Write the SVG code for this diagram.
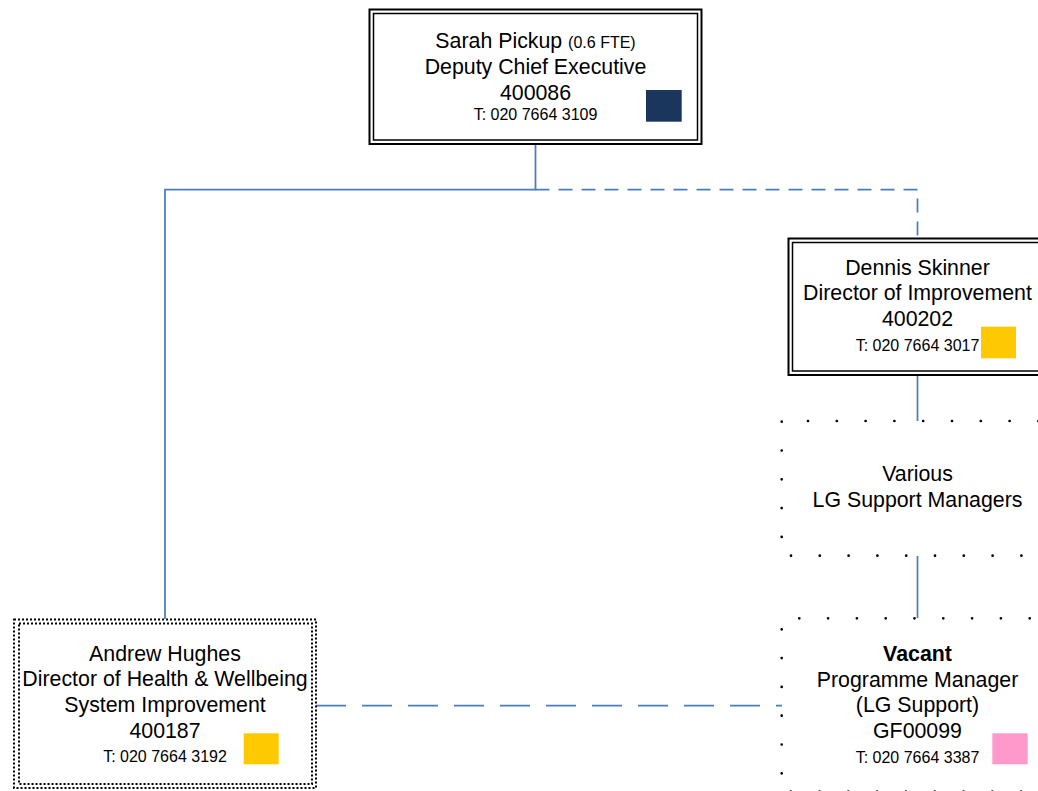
<svg xmlns="http://www.w3.org/2000/svg" width="1038" height="791" viewBox="0 0 1038 791">
<style>
text{font-family:"Liberation Sans",Arial,sans-serif;fill:#000;text-anchor:middle}
.m{font-size:21.33px}
.s{font-size:16px}
.b{font-weight:bold}
.dbl1{fill:none;stroke:#000;stroke-width:2}
.dbl2{fill:none;stroke:#000;stroke-width:1.5}
.dots{fill:none;stroke:#000;stroke-width:2.7;stroke-linecap:round;stroke-dasharray:0 28.8}
.dash{fill:none;stroke:#000;stroke-width:2;stroke-dasharray:2 2}
.c{fill:none;stroke:#4A7EBB;stroke-width:1.75}
.cd{fill:none;stroke:#4A7EBB;stroke-width:1.75;stroke-dasharray:14 9}
.cl{fill:none;stroke:#4A7EBB;stroke-width:1.75;stroke-dasharray:30 16}
</style>
<rect width="1038" height="791" fill="#fff"/>
<g id="connectors">
<path class="c" d="M535.5 144 V189.5 H165 V619"/>
<path class="cd" d="M535.5 189.5 H917.5 V238"/>
<path class="c" d="M917.5 375 V421"/>
<path class="c" d="M917.5 556 V618"/>
<path class="cl" d="M316 705.5 H782"/>
</g>
<g id="sarah">
<rect class="dbl1" x="369.5" y="9.5" width="332" height="134.5"/>
<rect class="dbl2" x="373.5" y="13.5" width="324" height="126.5"/>
<text x="535.5" y="48.3"><tspan class="m">Sarah Pickup </tspan><tspan class="s">(0.6 FTE)</tspan></text>
<text class="m" x="535.5" y="74">Deputy Chief Executive</text>
<text class="m" x="535.5" y="100">400086</text>
<text class="s" x="535.5" y="120">T: 020 7664 3109</text>
<rect x="646" y="90" width="35.7" height="31.7" fill="#1B365D"/>
</g>
<g id="dennis">
<rect class="dbl1" x="788.5" y="238.5" width="258" height="136.5"/>
<rect class="dbl2" x="792.5" y="242.5" width="250" height="128.5"/>
<text class="m" x="917.5" y="275">Dennis Skinner</text>
<text class="m" x="917.5" y="300">Director of Improvement</text>
<text class="m" x="917.5" y="325.5">400202</text>
<text class="s" x="917.5" y="351">T: 020 7664 3017</text>
<rect x="981" y="326.7" width="35" height="31.6" fill="#FFC900"/>
</g>
<g id="various">
<path class="dots" d="M808 421 H1040"/>
<path class="dots" d="M781.7 421.7 V540"/>
<path class="dots" d="M791 555.7 H1040"/>
<text class="m" x="917.5" y="481">Various</text>
<text class="m" x="917.5" y="507.3">LG Support Managers</text>
</g>
<g id="vacant">
<path class="dots" d="M799.3 618.3 H1040"/>
<path class="dots" d="M781.7 629.3 V790"/>
<path class="dots" d="M790.7 791.5 H1040"/>
<text class="m b" x="917.5" y="661">Vacant</text>
<text class="m" x="917.5" y="686.5">Programme Manager</text>
<text class="m" x="917.5" y="712">(LG Support)</text>
<text class="m" x="917.5" y="737.5">GF00099</text>
<text class="s" x="917.5" y="762.5">T: 020 7664 3387</text>
<rect x="992.3" y="733.3" width="35.4" height="31" fill="#FF99CC"/>
</g>
<g id="andrew">
<rect class="dash" x="14" y="619.5" width="302" height="168.5"/>
<rect class="dash" x="19" y="623.5" width="293" height="160.5"/>
<text class="m" x="165" y="660.7">Andrew Hughes</text>
<text class="m" x="165" y="686">Director of Health &amp; Wellbeing</text>
<text class="m" x="165" y="711.5">System Improvement</text>
<text class="m" x="165" y="737.5">400187</text>
<text class="s" x="165" y="762">T: 020 7664 3192</text>
<rect x="243.7" y="733.3" width="35" height="31" fill="#FFC900"/>
</g>
</svg>
